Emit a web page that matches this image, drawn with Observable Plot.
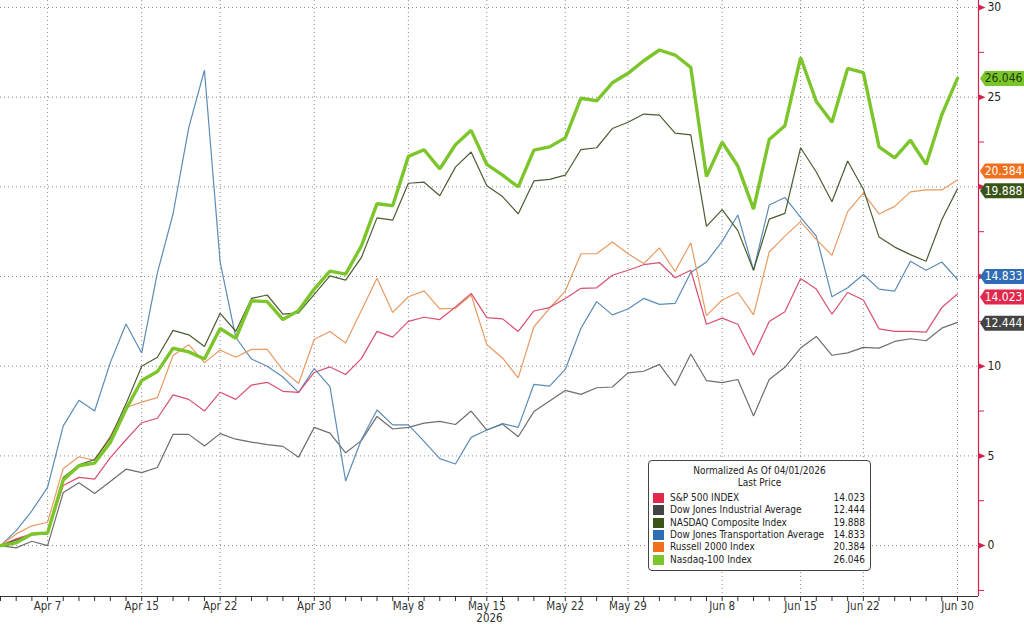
<!DOCTYPE html>
<html><head><meta charset="utf-8">
<script src="https://cdn.jsdelivr.net/npm/d3@7"></script>
<script src="https://cdn.jsdelivr.net/npm/@observablehq/plot@0.6"></script>
<style>
body{margin:0;background:#fff;}
#wrap{position:relative;width:1024px;height:627px;overflow:hidden;font-family:"DejaVu Sans Condensed","Liberation Sans Narrow","DejaVu Sans",sans-serif;}
#legend{position:absolute;left:648px;top:460px;width:223px;height:111px;border:1px solid #444;border-radius:4px;background:#fff;font-size:10px;color:#222;box-sizing:border-box;}
#legend .t{text-align:center;line-height:12px;}
#legend .row{position:absolute;left:4px;right:5px;height:12px;line-height:12px;}
#legend .sw{position:absolute;left:0;top:1px;width:11px;height:10px;}
#legend .nm{position:absolute;left:17px;}
#legend .vl{position:absolute;right:0;}
</style></head>
<body><div id="wrap"></div>
<script>
const dates = ["Apr 1","Apr 2","Apr 6","Apr 7","Apr 8","Apr 9","Apr 10","Apr 13","Apr 14","Apr 15","Apr 16","Apr 17","Apr 20","Apr 21","Apr 22","Apr 23","Apr 24","Apr 27","Apr 28","Apr 29","Apr 30","May 1","May 4","May 5","May 6","May 7","May 8","May 11","May 12","May 13","May 14","May 15","May 18","May 19","May 20","May 21","May 22","May 26","May 27","May 28","May 29","Jun 1","Jun 2","Jun 3","Jun 4","Jun 5","Jun 8","Jun 9","Jun 10","Jun 11","Jun 12","Jun 15","Jun 16","Jun 17","Jun 18","Jun 22","Jun 23","Jun 24","Jun 25","Jun 26","Jun 29","Jun 30"];
const tickLabels = ["Apr 7","Apr 15","Apr 22","Apr 30","May 8","May 15","May 22","May 29","Jun 8","Jun 15","Jun 22","Jun 30"];
const yTicks = [0,5,10,15,20,25,30];
const yLabelTicks = [0,5,10,25,30];
const yMinor = [-2.5,2.5,7.5,12.5,17.5,22.5,27.5];

const spx = [0,0.37,0.65,0.7,3.35,3.8,3.7,4.9,5.9,6.85,7.1,8.4,8.15,7.5,8.55,8.15,
 8.95,9.1,8.6,8.54,9.65,9.96,9.54,10.42,11.94,11.62,12.5,12.73,12.6,13.3,
 14.06,12.71,12.64,11.94,13.08,13.27,13.78,14.34,14.37,15.07,15.35,15.66,15.78,14.93,
 15.35,12.34,12.68,12.34,10.61,12.49,13.04,14.89,14.3,12.9,14.11,13.69,12.08,11.94,11.94,11.9,13.27,14.023];
const indu = [0,-0.13,0.24,0.0,2.96,3.5,2.9,3.57,4.26,4.07,4.35,6.2,6.2,5.55,6.24,5.93,
 5.77,5.63,5.53,4.93,6.59,6.27,5.17,5.85,7.2,6.5,6.59,6.83,6.92,6.75,
 7.5,6.44,6.77,6.07,7.47,8.06,8.65,8.43,8.8,8.84,9.63,9.72,10.1,8.92,
 10.68,9.2,9.08,9.26,7.23,9.26,9.94,11.01,11.66,10.61,10.74,11.05,11.01,11.38,11.53,11.42,12.12,12.444];
const ccmp = [0,0.3,0.6,0.65,3.8,4.5,4.8,6.0,7.9,10.0,10.5,12.0,11.75,11.1,12.95,11.95,
 13.78,13.97,12.9,12.97,14.0,15.04,14.8,16.05,18.27,18.14,20.2,20.26,19.5,21.1,
 21.94,20.06,19.46,18.49,20.33,20.42,20.65,22.08,22.18,23.25,23.6,24.06,24.0,23.0,
 22.9,17.8,18.73,17.56,15.35,18.2,18.52,22.18,20.83,19.17,21.44,19.87,17.2,16.64,16.22,15.85,18.17,19.888];
const tran = [0,0.83,1.94,3.24,6.67,8.1,7.5,10.2,12.35,10.74,15.2,18.5,23.3,26.5,15.8,11.6,
 10.4,10.0,9.4,8.54,9.87,8.86,3.6,5.9,7.56,6.73,6.73,5.81,4.85,4.55,
 6.03,6.44,6.8,6.59,8.99,8.89,9.82,12.12,13.6,12.86,13.19,13.78,13.45,13.5,
 15.22,15.81,16.96,18.43,15.35,18.99,19.41,18.3,17.25,13.87,14.37,15.11,14.3,14.19,15.85,15.35,15.81,14.833];
const rty = [0,0.65,1.1,1.3,4.3,4.95,4.75,6.1,7.7,8.0,8.25,10.6,11.2,10.2,10.9,10.5,
 10.94,10.94,9.78,9.04,11.5,11.94,11.3,13.1,14.9,13.0,13.87,14.2,13.2,13.23,
 13.97,11.2,10.46,9.35,12.2,13.23,14.19,16.27,16.27,16.92,16.27,15.72,16.6,15.28,
 16.88,12.82,13.69,14.11,12.86,16.37,17.25,18.06,17.07,16.18,18.62,19.65,18.49,18.91,19.72,19.83,19.83,20.384];
const ndx = [0,0.15,0.65,0.7,3.65,4.45,4.6,5.75,7.6,9.2,9.7,11.0,10.8,10.4,12.1,11.55,
 13.65,13.6,12.6,13.1,14.3,15.3,15.13,16.7,19.06,18.95,21.7,22.07,21.0,22.35,
 23.15,21.25,20.65,20.0,22.05,22.23,22.73,24.94,24.8,25.8,26.33,27.03,27.63,27.35,
 26.66,20.57,22.49,21.16,18.76,22.64,23.41,27.21,24.76,23.6,26.6,26.37,22.23,21.62,22.6,21.25,24.02,26.046];

const names = ["S&P 500 INDEX","Dow Jones Industrial Average","NASDAQ Composite Index","Dow Jones Transportation Average","Russell 2000 Index","Nasdaq-100 Index"];
const lastVals = ["14.023","12.444","19.888","14.833","20.384","26.046"];
const swatch = ["#e0284c","#444444","#3a5418","#2e6db3","#f0701e","#7ac52a"];

const series = [
  {name: names[1], v: indu, stroke: "#6e6e6e", w: 1.2},
  {name: names[3], v: tran, stroke: "#5b8cb6", w: 1.2},
  {name: names[4], v: rty, stroke: "#e99a62", w: 1.2},
  {name: names[0], v: spx, stroke: "#d9506f", w: 1.2},
  {name: names[2], v: ccmp, stroke: "#4b5d30", w: 1.2},
  {name: names[5], v: ndx, stroke: "#7cc62c", w: 3.4}
];

const xMax = 62.34, yMin = -2.84, yMax = 30.39;
const idx = dates.map((d, i) => i);
const labelIdx = tickLabels.map(l => dates.indexOf(l));

const tags = [
  {v: 20.384, label: "20.384", fill: "#f0701e", color: "#fff", nudge: -9},
  {v: 26.046, label: "26.046", fill: "#7ac52a", color: "#1d3a06", nudge: 0},
  {v: 19.888, label: "19.888", fill: "#3a5418", color: "#fff", nudge: 2},
  {v: 14.833, label: "14.833", fill: "#2e6db3", color: "#fff", nudge: -3},
  {v: 14.023, label: "14.023", fill: "#e0284c", color: "#fff", nudge: 3},
  {v: 12.444, label: "12.444", fill: "#444444", color: "#fff", nudge: 1}
];
const pxPerUnit = 596 / (yMax - yMin);
const tagY = d => d.v - d.nudge / pxPerUnit;

const tagSymbol = {draw(ctx) {
  ctx.moveTo(-22, 0); ctx.lineTo(-17, -7.5); ctx.lineTo(23, -7.5);
  ctx.lineTo(23, 7.5); ctx.lineTo(-17, 7.5); ctx.closePath();
}};
const arrowSymbol = {draw(ctx) {
  ctx.moveTo(-3, -3); ctx.lineTo(4, 0); ctx.lineTo(-3, 3); ctx.closePath();
}};

const grid = {stroke: "#8a8a8a", strokeDasharray: "1,3", strokeWidth: 1, strokeOpacity: 1};

const plot = Plot.plot({
  width: 1024, height: 627,
  marginLeft: 0, marginRight: 46, marginTop: 0, marginBottom: 31,
  style: {fontFamily: '"DejaVu Sans Condensed","Liberation Sans Narrow","DejaVu Sans",sans-serif', fontSize: "12px", background: "#fff", color: "#333"},
  x: {domain: [0, xMax], axis: null, label: null},
  y: {domain: [yMin, yMax], axis: null, label: null},
  marks: [
    Plot.ruleX(labelIdx, grid),
    Plot.ruleY(yTicks, {...grid, x1: 0, x2: xMax}),
    ...series.map(s => Plot.line(s.v, {x: (d, i) => i, y: d => d, stroke: s.stroke, strokeWidth: s.w, strokeLinejoin: "miter"})),
    Plot.ruleY([yMin], {x1: 0, x2: xMax, stroke: "#333", strokeWidth: 1}),
    Plot.axisX({ticks: idx, tickFormat: () => "", tickSize: 5, stroke: "#333", anchor: "bottom", label: null}),
    Plot.axisX({ticks: labelIdx, tickFormat: i => dates[i], tickSize: 0, tickPadding: 5, fill: "#333", anchor: "bottom", fontSize: 11.5, label: null}),
    Plot.text(["2026"], {frameAnchor: "bottom", dy: 25.5, fill: "#333", fontSize: 11.5}),
    Plot.ruleX([xMax], {stroke: "#d4214c", strokeWidth: 1.2}),
    Plot.ruleY(yMinor, {x1: xMax, x2: xMax + 0.38, stroke: "#d4214c", strokeWidth: 1}),
    Plot.dot(yTicks, {x: xMax, y: d => d, symbol: arrowSymbol, fill: "#d4214c", stroke: null, dx: 3}),
    Plot.axisY({ticks: yLabelTicks, anchor: "right", tickSize: 0, tickPadding: 9, fill: "#222", fontSize: 12, tickFormat: d => d, label: null}),
    Plot.dot(tags, {x: xMax, y: tagY, symbol: tagSymbol, fill: "fill", stroke: null, dx: 23.5}),
    Plot.text(tags, {x: xMax, y: tagY, text: "label", fill: "color", dx: 25, fontSize: 12})
  ]
});
const wrap = document.getElementById("wrap");
wrap.appendChild(plot);

const lg = document.createElement("div");
lg.id = "legend";
let html = '<div class="t" style="margin-top:4px">Normalized As Of 04/01/2026</div><div class="t">Last Price</div>';
names.forEach((n, k) => {
  html += `<div class="row" style="top:${31 + k * 12.3}px"><span class="sw" style="background:${swatch[k]}"></span><span class="nm">${n.replace("&", "&amp;")}</span><span class="vl">${lastVals[k]}</span></div>`;
});
lg.innerHTML = html;
wrap.appendChild(lg);
</script>
</body></html>
